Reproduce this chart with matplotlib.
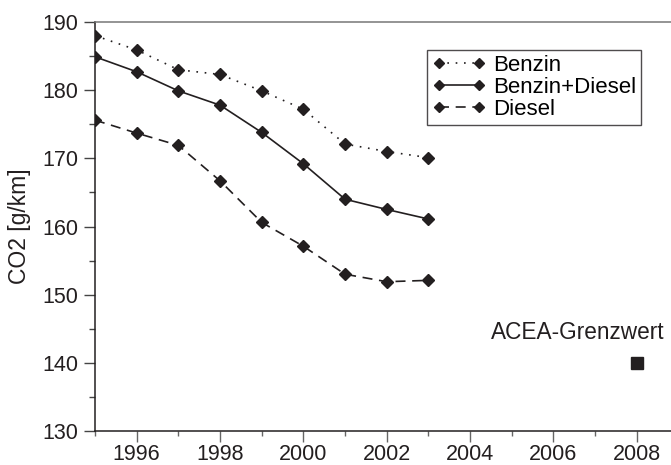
import matplotlib
matplotlib.use("Agg")
import matplotlib.pyplot as plt
from matplotlib.ticker import MultipleLocator

plt.rcParams['font.family'] = ['Liberation Sans', 'DejaVu Sans']

years = [1995, 1996, 1997, 1998, 1999, 2000, 2001, 2002, 2003]
benzin = [188.0, 185.9, 183.0, 182.3, 179.9, 177.2, 172.1, 171.0, 170.1]
benzin_diesel = [184.9, 182.7, 179.9, 177.8, 173.8, 169.2, 164.0, 162.5, 161.1]
diesel = [175.6, 173.7, 171.9, 166.7, 160.6, 157.1, 153.0, 151.9, 152.1]
acea_year = [2008]
acea_value = [140]
acea_label = "ACEA-Grenzwert"
series_labels = ["Benzin", "Benzin+Diesel", "Diesel"]
ylabel = "CO2 [g/km]"

fig = plt.figure(figsize=(6.71, 4.65), dpi=100)
ax = fig.add_axes([95/671, 1 - 431/465, 1 - 95/671, (431 - 22)/465])

col = '#231f20'
ms = 6.5
ax.plot(years, benzin, linestyle=(0, (1, 4)), color=col, lw=1.2, marker='D', ms=ms,
        label=series_labels[0])
ax.plot(years, benzin_diesel, linestyle='-', color=col, lw=1.2, marker='D', ms=ms,
        label=series_labels[1])
ax.plot(years, diesel, linestyle=(0, (6, 4)), color=col, lw=1.2, marker='D', ms=ms,
        label=series_labels[2])
ax.plot(acea_year, acea_value, linestyle='none', marker='s', ms=9, color=col)
ax.text(acea_year[0] - 1.43, acea_value[0] + 4.4, acea_label, ha='center', va='center',
        fontsize=16.3, color=col)

ax.set_xlim(1995, 2008.82)
ax.set_ylim(130, 190)
ax.set_xticks(range(1996, 2009, 2))
ax.xaxis.set_minor_locator(MultipleLocator(1))
ax.yaxis.set_major_locator(MultipleLocator(10))
ax.yaxis.set_minor_locator(MultipleLocator(5))
ax.tick_params(axis='both', which='major', labelsize=15.5, direction='out',
               labelcolor=col, width=1)
ax.tick_params(axis='x', which='major', length=8, colors='#666666', labelcolor=col, pad=1)
ax.tick_params(axis='x', which='minor', length=3.5, colors='#666666', width=1)
ax.tick_params(axis='y', which='major', length=8, colors='#444444', labelcolor=col, pad=4)
ax.tick_params(axis='y', which='minor', length=4, colors='#444444', width=1)
ax.set_ylabel(ylabel, fontsize=16.5, color=col, labelpad=8)

ax.spines['right'].set_visible(False)
ax.spines['top'].set_color('#777777')
ax.spines['left'].set_color(col)
ax.spines['bottom'].set_color(col)
for s in ax.spines.values():
    s.set_linewidth(1.1)

leg = ax.legend(loc='upper left', bbox_to_anchor=((427 - 95)/576, 1 - (50 - 22)/409),
                bbox_transform=ax.transAxes, numpoints=2, markerscale=0.8,
                fontsize=16, frameon=True, fancybox=False, handlelength=2.4,
                handletextpad=0.35, borderpad=0.22, labelspacing=0.05, borderaxespad=0)
leg.get_frame().set_edgecolor(col)
leg.get_frame().set_linewidth(1.0)

fig.savefig("out.png", dpi=100)
